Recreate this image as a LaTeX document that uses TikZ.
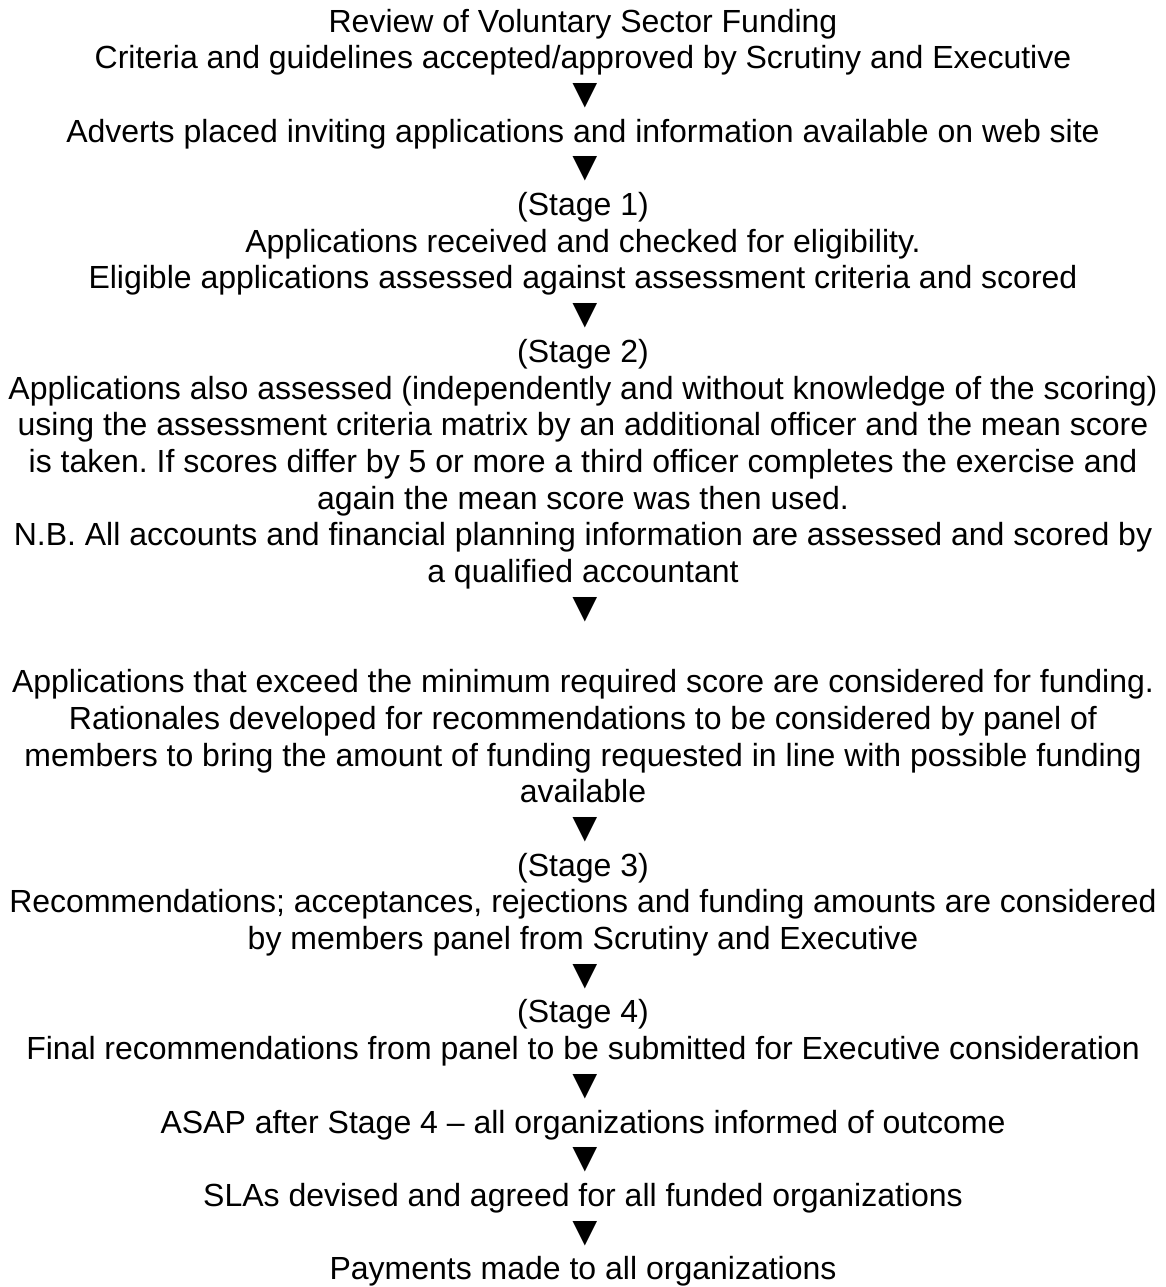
\documentclass[tikz,border=0pt]{standalone}
\usepackage{fontspec}
\setmainfont{Liberation Sans}
\frenchspacing
\tikzset{
  ln/.style={anchor=base, inner sep=0pt, font=\fontsize{16pt}{18pt}\selectfont},
  tri/.style={anchor=base, inner sep=0pt, font=\fontsize{21pt}{24pt}\selectfont, yshift=-1pt}
}
\begin{document}
\begin{tikzpicture}[x=0.5pt,y=-0.5pt]
\useasboundingbox (0,0) rectangle (1166,1287);
\node[ln] (l1) at (583,32.0) {Review of Voluntary Sector Funding};
\node[ln] (l2) at (583,68.7) {Criteria and guidelines accepted/approved by Scrutiny and Executive};
\node[tri] (a1) at (585,105.4) {▼};
\node[ln] (l4) at (583,142.1) {Adverts placed inviting applications and information available on web site};
\node[tri] (a2) at (585,178.8) {▼};
\node[ln] (l6) at (583,215.5) {(Stage 1)};
\node[ln] (l7) at (583,252.2) {Applications received and checked for eligibility.};
\node[ln] (l8) at (583,288.9) {Eligible applications assessed against assessment criteria and scored};
\node[tri] (a3) at (585,325.6) {▼};
\node[ln] (l10) at (583,362.3) {(Stage 2)};
\node[ln] (l11) at (583,399.0) {Applications also assessed (independently and without knowledge of the scoring)};
\node[ln] (l12) at (583,435.7) {using the assessment criteria matrix by an additional officer and the mean score};
\node[ln] (l13) at (583,472.4) {is taken. If scores differ by 5 or more a third officer completes the exercise and};
\node[ln] (l14) at (583,509.1) {again the mean score was then used.};
\node[ln] (l15) at (583,545.8) {N.B. All accounts and financial planning information are assessed and scored by};
\node[ln] (l16) at (583,582.5) {a qualified accountant};
\node[tri] (a4) at (585,619.2) {▼};
\node[ln] (l19) at (583,692.6) {Applications that exceed the minimum required score are considered for funding.};
\node[ln] (l20) at (583,729.3) {Rationales developed for recommendations to be considered by panel of};
\node[ln] (l21) at (583,766.0) {members to bring the amount of funding requested in line with possible funding};
\node[ln] (l22) at (583,802.7) {available};
\node[tri] (a5) at (585,839.4) {▼};
\node[ln] (l24) at (583,876.1) {(Stage 3)};
\node[ln] (l25) at (583,912.8) {Recommendations; acceptances, rejections and funding amounts are considered};
\node[ln] (l26) at (583,949.5) {by members panel from Scrutiny and Executive};
\node[tri] (a6) at (585,986.2) {▼};
\node[ln] (l28) at (583,1022.9) {(Stage 4)};
\node[ln] (l29) at (583,1059.6) {Final recommendations from panel to be submitted for Executive consideration};
\node[tri] (a7) at (585,1096.3) {▼};
\node[ln] (l31) at (583,1133.0) {ASAP after Stage 4 – all organizations informed of outcome};
\node[tri] (a8) at (585,1169.7) {▼};
\node[ln] (l33) at (583,1206.4) {SLAs devised and agreed for all funded organizations};
\node[tri] (a9) at (585,1243.1) {▼};
\node[ln] (l35) at (583,1279.8) {Payments made to all organizations};
\end{tikzpicture}
\end{document}
